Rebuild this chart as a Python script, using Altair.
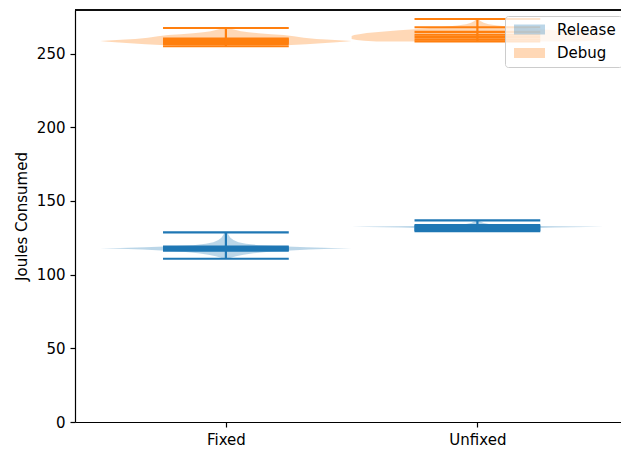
import altair as alt
import pandas as pd

# Build configurations and their x positions
conditions = ["Fixed", "Unfixed"]
cond_pos = [1, 2]
builds = ["Release", "Debug"]
build_colors = ["#1f77b4", "#ff7f0e"]

# Violin outlines: sample value -> half width of the body (in x units)
fixed_release_vals = [110.8, 111.5, 112.5, 113.5, 114.5, 115.5, 116.3, 117.0, 117.5, 117.8,
                      118.1, 118.6, 119.2, 120.0, 121.0, 122.0, 123.5, 125.0, 127.0, 128.7]
fixed_release_hw = [0.01, 0.02, 0.04, 0.07, 0.11, 0.17, 0.24, 0.33, 0.42, 0.50,
                    0.42, 0.32, 0.22, 0.13, 0.08, 0.05, 0.03, 0.018, 0.01, 0.005]

fixed_debug_vals = [255.0, 255.6, 256.3, 257.0, 257.7, 258.2, 258.6, 259.0, 259.5, 260.0,
                    260.8, 261.8, 262.6, 263.2, 263.8, 264.5, 265.2, 266.0, 266.8, 267.4]
fixed_debug_hw = [0.15, 0.24, 0.32, 0.38, 0.44, 0.48, 0.50, 0.45, 0.40, 0.36,
                  0.31, 0.27, 0.23, 0.18, 0.13, 0.09, 0.06, 0.04, 0.02, 0.008]

unfixed_release_vals = [129.5, 130.0, 130.7, 131.4, 132.0, 132.5, 133.0, 133.5, 134.2, 135.0, 136.0, 136.8]
unfixed_release_hw = [0.05, 0.08, 0.12, 0.18, 0.30, 0.50, 0.25, 0.12, 0.05, 0.025, 0.012, 0.005]

unfixed_debug_vals = [258.3, 258.8, 259.3, 260.0, 261.0, 262.0, 262.6, 263.2, 264.0, 265.0,
                      265.8, 266.6, 267.4, 268.2, 269.0, 270.0, 271.0, 272.2, 273.5]
unfixed_debug_hw = [0.40, 0.45, 0.48, 0.50, 0.50, 0.50, 0.49, 0.47, 0.44, 0.37,
                    0.31, 0.25, 0.19, 0.13, 0.08, 0.045, 0.025, 0.012, 0.005]

# Extrema and quantile levels drawn as horizontal bars
fixed_release_extrema = [110.8, 128.7]
fixed_release_quantiles = [116.3, 117.0, 117.7, 118.4, 119.1]
fixed_debug_extrema = [255.0, 267.4]
fixed_debug_quantiles = [256.6, 257.4, 258.1, 258.8, 259.5, 260.2]
unfixed_release_extrema = [129.5, 136.8]
unfixed_release_quantiles = [130.2, 130.9, 131.6, 132.3, 133.0, 133.6]
unfixed_debug_extrema = [258.3, 273.5]
unfixed_debug_quantiles = [259.7, 261.3, 262.8, 264.7, 267.9]

violins = [
    ("Fixed", "Release", fixed_release_vals, fixed_release_hw, fixed_release_extrema, fixed_release_quantiles),
    ("Fixed", "Debug", fixed_debug_vals, fixed_debug_hw, fixed_debug_extrema, fixed_debug_quantiles),
    ("Unfixed", "Release", unfixed_release_vals, unfixed_release_hw, unfixed_release_extrema, unfixed_release_quantiles),
    ("Unfixed", "Debug", unfixed_debug_vals, unfixed_debug_hw, unfixed_debug_extrema, unfixed_debug_quantiles),
]

BAR_HALF = 0.25  # half length of the extrema / quantile bars

body_rows, bar_rows, stem_rows = [], [], []
for cond, build, vals, hws, ext, qs in violins:
    pos = cond_pos[conditions.index(cond)]
    key = f"{cond}-{build}"
    for v, hw in zip(vals, hws):
        body_rows.append({"key": key, "build": build, "value": v, "left": pos - hw, "right": pos + hw})
    for v in list(ext) + list(qs):
        bar_rows.append({"key": key, "build": build, "value": v, "lo": pos - BAR_HALF, "hi": pos + BAR_HALF})
    stem_rows.append({"key": key, "build": build, "pos": pos, "value": ext[0], "value_top": ext[1]})

bodies = pd.DataFrame(body_rows)
bars = pd.DataFrame(bar_rows)
stems = pd.DataFrame(stem_rows)

FONT = "DejaVu Sans"
FS = 15

x_scale = alt.Scale(domain=[0.4, 2.571], nice=False, zero=False)
y_scale = alt.Scale(domain=[0, 279.6], nice=False, zero=False)
x_axis = alt.Axis(
    values=cond_pos, title=None, grid=False,
    labelExpr="datum.value == 1 ? 'Fixed' : 'Unfixed'",
)
y_axis = alt.Axis(
    values=[0, 50, 100, 150, 200, 250], title="Joules Consumed", grid=False,
    titleX=-54, titleY=206, titleAngle=270, titleAlign="center", titleBaseline="middle",
)
color_scale = alt.Scale(domain=builds, range=build_colors)

body_layer = alt.Chart(bodies).mark_area(orient="horizontal", opacity=0.3, strokeWidth=0).encode(
    y=alt.Y("value:Q", scale=y_scale, axis=y_axis),
    x=alt.X("left:Q", scale=x_scale, axis=x_axis),
    x2="right:Q",
    detail="key:N",
    color=alt.Color(
        "build:N", scale=color_scale,
        legend=alt.Legend(
            title=None, orient="none", legendX=430, legendY=6,
            symbolType="M-3.1,-1H3.1V1H-3.1Z", symbolSize=100, symbolOffset=11,
            symbolOpacity=0.3, symbolStrokeWidth=0,
            labelFontSize=FS, labelFont=FONT, labelColor="black",
            labelOffset=20, padding=6, rowPadding=7.5,
            fillColor="rgba(255,255,255,0.8)", strokeColor="#cccccc", cornerRadius=3,
        ),
    ),
)

bar_layer = alt.Chart(bars).mark_rule(strokeWidth=2.2).encode(
    y=alt.Y("value:Q", scale=y_scale, axis=y_axis),
    x=alt.X("lo:Q", scale=x_scale, axis=x_axis),
    x2="hi:Q",
    color=alt.Color("build:N", scale=color_scale, legend=None),
)

stem_layer = alt.Chart(stems).mark_rule(strokeWidth=2.2).encode(
    x=alt.X("pos:Q", scale=x_scale, axis=x_axis),
    y=alt.Y("value:Q", scale=y_scale, axis=y_axis),
    y2="value_top:Q",
    color=alt.Color("build:N", scale=color_scale, legend=None),
)

# top frame line of the plot area
top_frame = alt.Chart(stems).mark_rule(color="black", strokeWidth=1.2).encode(
    x=alt.value(0), x2=alt.value(546), y=alt.value(0)
)

chart = alt.layer(body_layer, bar_layer, stem_layer, top_frame).properties(
    width=546, height=412,
    autosize=alt.AutoSizeParams(type="none"),
    padding={"left": 75, "top": 10, "right": 0, "bottom": 31},
    background="white",
).configure_view(stroke=None).configure_axis(
    labelFont=FONT, titleFont=FONT, labelFontSize=FS, titleFontSize=FS,
    labelColor="black", titleColor="black", titleFontWeight="normal",
    domainColor="black", domainWidth=1.2, tickColor="black", tickWidth=1.2,
    tickSize=5, labelPadding=5,
)

chart.save("out.html", embed_options={"renderer": "svg", "actions": False})
